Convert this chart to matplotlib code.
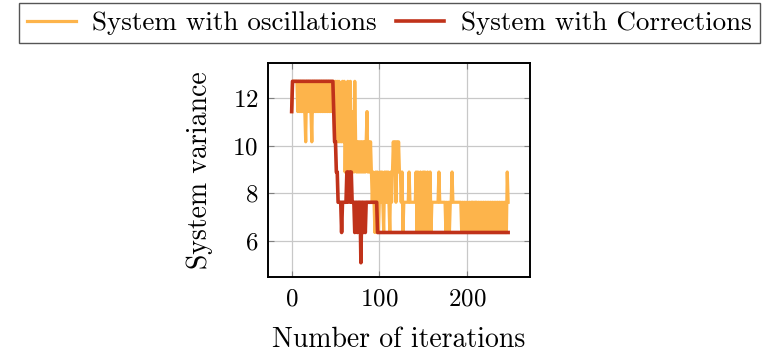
import numpy as np
import matplotlib
matplotlib.use('Agg')
import matplotlib.pyplot as plt

plt.rcParams['font.family'] = ['cmr10', 'DejaVu Serif']
plt.rcParams['axes.formatter.use_mathtext'] = True

# variance levels seen in the chart
levels = [5.08, 6.35, 7.62, 8.89, 10.16, 11.43, 12.7]

# level index per iteration, System with oscillations
osc_idx = [5, 6, 6, 6, 6, 6, 6,
           5, 6, 5, 6, 5, 6, 5, 6, 5, 4, 6, 5, 6, 5, 6, 5, 4,
           6, 5, 6, 5, 6, 5, 6, 5, 6, 5, 6, 5, 6, 5, 6, 5, 6, 5, 6, 5, 6, 5, 6, 5,
           6, 4, 6, 5, 6, 4, 6, 4, 5, 4, 6, 4, 6, 3, 5, 4, 6, 3, 4, 6, 3, 4, 5, 3, 6,
           4, 3, 4, 3, 4, 3, 4, 3, 4, 3, 4, 3, 4, 5, 3, 4, 3, 4, 3, 2,
           3, 2, 1, 3, 2, 3, 1, 2, 3, 2, 3, 2, 1, 3, 2, 3, 2, 3, 2, 1, 3, 2, 3,
           4, 3, 4, 2, 4, 3, 4, 3, 3, 2, 3, 1,
           2, 2, 2, 2, 2, 2, 3, 2, 2, 2, 2, 2, 2, 2,
           3, 1, 3, 2, 1, 3, 2, 1, 3, 2, 3, 1, 2, 3, 1, 2, 3, 1, 2,
           2, 2, 2, 2, 2, 2, 2, 3, 2, 2, 2, 2, 2, 2,
           2, 1, 2, 1, 2, 1, 2, 2,
           3, 2, 2, 2, 2, 2, 2, 2, 2, 2,
           2, 1, 2, 1, 2, 1, 2, 1, 2, 1, 2, 1, 2,
           2, 2, 1, 2, 2,
           2, 1, 2, 1, 2, 1, 2, 1, 2, 1, 2, 1, 2, 1, 2, 1, 2,
           1, 2, 1, 2, 1, 2, 1, 2, 1, 2, 1, 2, 1, 2, 1, 2, 1,
           1, 3, 2]

# level index per iteration, System with Corrections
corr_idx = ([5] + [6] * 47 +
            [5, 4, 4, 3, 3, 2, 2, 2, 2, 1, 2, 2, 2, 2, 2, 3, 2, 3, 3, 2, 3, 2,
             2, 2, 1, 2, 2, 1, 2, 2, 2, 0, 2, 2, 1, 2, 1, 2] +
            [2] * 12 + [1] * 150)

osc = [levels[i] for i in osc_idx]
corr = [levels[i] for i in corr_idx]

fig = plt.figure(figsize=(7.73, 3.57), dpi=100)
ax = fig.add_axes([0.3467, 0.2241, 0.339, 0.5994])

ax.plot(range(len(osc)), osc, color='#FDB44B', lw=2.3, label='System with oscillations')
ax.plot(range(len(corr)), corr, color='#C0321A', lw=2.6, label='System with Corrections')

ax.set_xlim(-27, 272)
ax.set_ylim(4.48, 13.47)
ax.set_xticks([0, 100, 200])
ax.set_yticks([6, 8, 10, 12])
ax.grid(True, color='#c8c8c8', lw=0.9)
ax.set_axisbelow(True)
ax.tick_params(direction='in', length=4, color='#808080', top=True, right=True,
               labelsize=18)
ax.tick_params(axis='x', pad=8)
ax.tick_params(axis='y', pad=7)
for s in ax.spines.values():
    s.set_linewidth(1.4)

ax.set_xlabel('Number of iterations', fontsize=20, labelpad=12)
ax.set_ylabel('System variance', fontsize=20, labelpad=14)

fig.legend(loc='upper left', bbox_to_anchor=(19 / 773, 1 - 3 / 357), ncol=2,
           fontsize=19.5, frameon=True, fancybox=False, edgecolor='#555555',
           framealpha=1, borderaxespad=0, handlelength=1.8, handletextpad=0.6,
           columnspacing=0.7, borderpad=0.3)

fig.savefig('out.png', dpi=100)
